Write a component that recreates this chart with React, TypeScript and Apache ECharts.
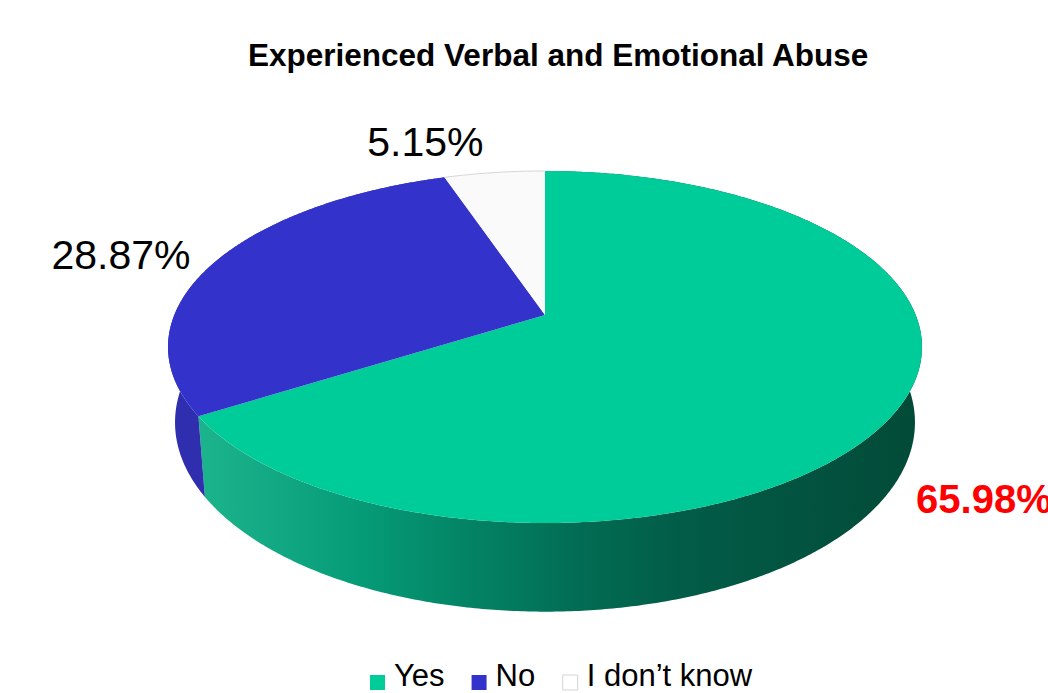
import React, { useEffect, useRef } from "react";
import * as echarts from "echarts";

// ---- data ----
const CATEGORIES = ["Yes", "No", "I don\u2019t know"];
const VALUES = [65.98, 28.87, 5.15];
const TITLE = "Experienced Verbal and Emotional Abuse";

// ---- styling / layout constants ----
const TOP_COLORS = ["#00CC99", "#3333CC", "#FAFAFA"];
const FONT = "'Liberation Sans', Arial, sans-serif";
// square legend marker sitting low in its box (degenerate point on top keeps the offset)
const LEGEND_ICON = "path://M7,0L7.001,0L7,0.001ZM0,14L15,14L15,29L0,29Z";

// perspective projection of the pie disc
const CX = 545;
const CY = 315; // projected centre of the top face
const RX = 370.7;
const RY = 170.2;
const K = 0.1818; // perspective strength
const RX2 = 363.8; // bottom face
const RY2 = 183;
const CY2 = 388;

// label offsets from the rim point at each slice's mid angle
const LABEL_OFFSETS: [number, number, string][] = [
  [15, 94, "left"],
  [-25, -6, "right"],
  [-69, -31, "center"],
];

const rad = (d: number) => (d * Math.PI) / 180;
const projTop = (deg: number, r = 1): number[] => {
  const c = Math.cos(rad(deg)) * r;
  const s = Math.sin(rad(deg)) * r;
  const w = 1 + K * s;
  return [CX + (RX * c) / w, CY - (RY * s) / w];
};
const projBottom = (deg: number): number[] => {
  const c = Math.cos(rad(deg));
  const s = Math.sin(rad(deg));
  const w = 1 + K * s;
  return [CX + (RX2 * c) / w, CY2 - (RY2 * s) / w];
};

const total = VALUES.reduce((a, b) => a + b, 0);
const sliceAngles = (i: number, v: number) => {
  let cum = 0;
  for (let j = 0; j < i; j++) cum += VALUES[j];
  const a0 = 90 - (cum / total) * 360;
  const a1 = 90 - ((cum + v) / total) * 360;
  return [a0, a1];
};
const arcPoints = (a0: number, a1: number, f: (d: number) => number[]) => {
  const n = Math.max(2, Math.ceil(Math.abs(a1 - a0) * 2));
  const pts: number[][] = [];
  for (let k = 0; k <= n; k++) pts.push(f(a0 + ((a1 - a0) * k) / n));
  return pts;
};

export default function App() {
  const ref = useRef<HTMLDivElement>(null);
  useEffect(() => {
    if (!ref.current) return;
    const chart = echarts.init(ref.current, undefined, { renderer: "svg" });
    const wallFills: any[] = [
      new echarts.graphic.LinearGradient(
        198,
        0,
        922,
        0,
        [
          { offset: 0, color: "#1cb48d" },
          { offset: 0.22, color: "#069c78" },
          { offset: 0.39, color: "#038162" },
          { offset: 0.53, color: "#026c53" },
          { offset: 0.67, color: "#025c47" },
          { offset: 1, color: "#024a38" },
        ],
        true
      ),
      "#2e2eae",
      "#e4e4e4",
    ];
    const maxIdx = VALUES.indexOf(Math.max(...VALUES));

    const option: any = {
      animation: false,
      backgroundColor: "#ffffff",
      title: {
        text: TITLE,
        left: 248,
        top: 39,
        padding: 0,
        textStyle: {
          fontSize: 31.5,
          fontWeight: "bold",
          fontFamily: FONT,
          color: "#000000",
        },
      },
      legend: {
        left: 370,
        top: 660,
        padding: 0,
        itemWidth: 15,
        itemHeight: 29,
        itemGap: 27,
        icon: LEGEND_ICON,
        selectedMode: false,
        textStyle: {
          fontSize: 31,
          fontFamily: FONT,
          color: "#000000",
          padding: [0, 0, 0, 4],
        },
        data: CATEGORIES.map((name, i) => ({
          name,
          itemStyle:
            i === 2
              ? { color: "#ffffff", borderColor: "#d4d4d4", borderWidth: 1 }
              : { color: TOP_COLORS[i], borderWidth: 0 },
        })),
      },
      series: [
        {
          type: "pie",
          silent: true,
          center: [-500, -500],
          radius: 1,
          label: { show: false },
          labelLine: { show: false },
          data: CATEGORIES.map((name, i) => ({
            name,
            value: VALUES[i],
            itemStyle: { color: TOP_COLORS[i] },
          })),
        },
        {
          type: "custom",
          coordinateSystem: "none",
          silent: true,
          data: VALUES,
          renderItem: (params: any, api: any) => {
            const i = params.dataIndex;
            const [a0, a1] = sliceAngles(i, api.value(0));
            const pts = arcPoints(a0, a1, projTop).concat(
              arcPoints(a0, a1, projBottom).reverse()
            );
            return {
              type: "polygon",
              shape: { points: pts },
              style: { fill: wallFills[i], stroke: null },
            };
          },
        },
        {
          type: "custom",
          coordinateSystem: "none",
          silent: true,
          data: VALUES,
          renderItem: (params: any, api: any) => {
            const i = params.dataIndex;
            const v = api.value(0);
            const [a0, a1] = sliceAngles(i, v);
            const rim = arcPoints(a0, a1, projTop);
            const children: any[] = [
              {
                type: "polygon",
                shape: { points: [[CX, CY]].concat(rim) },
                style: { fill: TOP_COLORS[i], stroke: null },
              },
            ];
            if (i === 2) {
              children.push({
                type: "polyline",
                shape: { points: rim },
                style: { stroke: "#d6d6d6", lineWidth: 1, fill: null },
              });
            }
            const mid = (a0 + a1) / 2;
            const anchor = projTop(mid);
            const off = LABEL_OFFSETS[i];
            const hi = i === maxIdx;
            children.push({
              type: "text",
              x: anchor[0] + off[0],
              y: anchor[1] + off[1],
              style: {
                text: v.toFixed(2) + "%",
                fill: hi ? "#FF0000" : "#000000",
                fontSize: hi ? 40 : 41,
                fontWeight: hi ? "bold" : "normal",
                fontFamily: FONT,
                align: off[2],
                verticalAlign: "middle",
              },
            });
            return { type: "group", children };
          },
        },
      ],
    };
    chart.setOption(option);
    return () => chart.dispose();
  }, []);
  return (
    <div
      ref={ref}
      style={{
        position: "fixed",
        left: 0,
        top: 0,
        width: 1048,
        height: 693,
        background: "#ffffff",
      }}
    />
  );
}
